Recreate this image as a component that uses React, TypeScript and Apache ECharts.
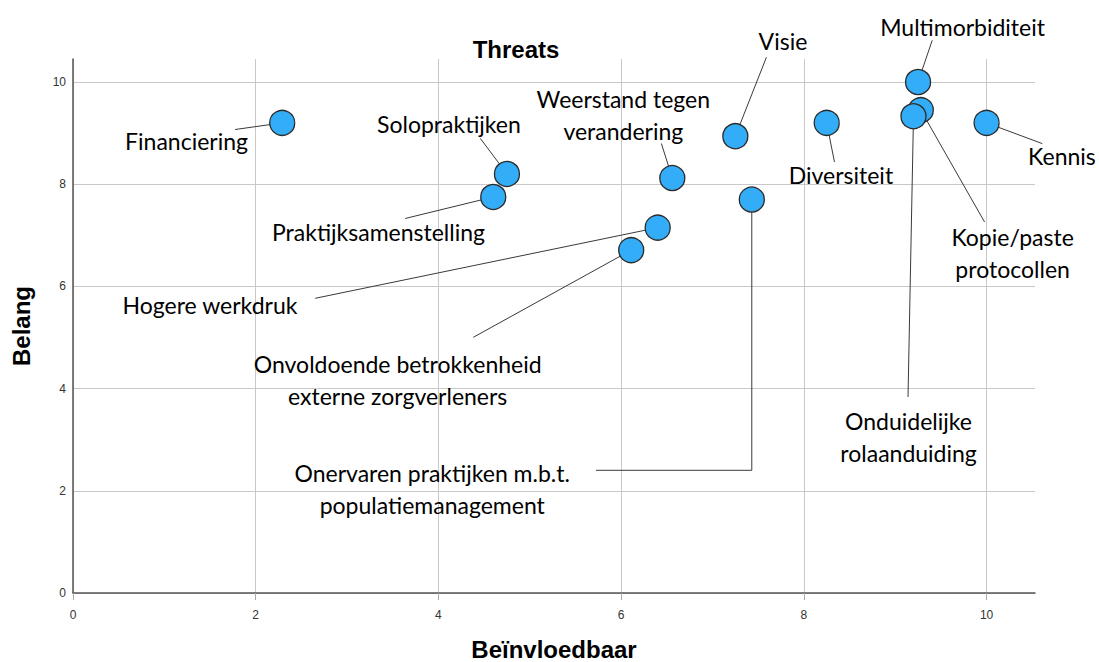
import React, { useEffect, useRef } from 'react';
import * as echarts from 'echarts';

// Items (threats)
const categories = [
  'Financiering',
  'Solopraktijken',
  'Praktijksamenstelling',
  'Hogere werkdruk',
  'Onvoldoende betrokkenheid\nexterne zorgverleners',
  'Onervaren praktijken m.b.t.\npopulatiemanagement',
  'Weerstand tegen\nverandering',
  'Visie',
  'Multimorbiditeit',
  'Diversiteit',
  'Kennis',
  'Kopie/paste\nprotocollen',
  'Onduidelijke\nrolaanduiding',
];

// x: Beïnvloedbaar, y: Belang
const beinvloedbaar = [2.29, 4.75, 4.60, 6.40, 6.11, 7.43, 6.56, 7.25, 9.25, 8.25, 10.0, 9.28, 9.20];
const belang = [9.2, 8.2, 7.75, 7.15, 6.71, 7.70, 8.12, 8.94, 10.0, 9.2, 9.2, 9.45, 9.33];

// Label anchors (data units)
const labelTextX = [1.243, 4.115, 3.344, 1.5, 3.554, 3.932, 6.024, 7.771, 9.737, 8.406, 10.825, 10.285, 9.146];
const labelTextY = [8.879, 9.211, 7.098, 5.669, 4.192, 2.069, 9.378, 10.836, 11.109, 8.208, 8.585, 6.677, 3.08];
const leaderEndX = [1.774, 4.458, 3.636, 2.651, 4.381, 5.725, 6.44, 7.59, 9.405, 8.335, 10.61, 9.978, 9.14];
const leaderEndY = [9.07, 8.898, 7.329, 5.767, 5.003, 2.401, 8.797, 10.484, 10.816, 8.433, 8.794, 7.26, 3.836];
const leaderElbowX: (number | null)[] = [null, null, null, null, null, 7.43, null, null, null, null, null, null, null];
const leaderElbowY: (number | null)[] = [null, null, null, null, null, 2.401, null, null, null, null, null, null, null];

const tickValues = [0, 2, 4, 6, 8, 10];

const ARIAL = 'Arial, "Liberation Sans", sans-serif';
const LABEL_FONT = 'Lato, "Open Sans", sans-serif';

export default function App() {
  const ref = useRef<HTMLDivElement>(null);

  useEffect(() => {
    document.body.style.margin = '0';
    const chart = echarts.init(ref.current!, null, { renderer: 'svg' });
    const points = beinvloedbaar.map((x, i) => [x, belang[i]]);

    chart.setOption({
      animation: false,
      backgroundColor: '#fff',
      grid: { left: 73, right: 64, top: 59, bottom: 69, containLabel: false, outerBoundsMode: 'none' },
      graphic: [
        {
          type: 'text',
          x: 516,
          y: 49,
          style: {
            text: 'Threats',
            align: 'center',
            verticalAlign: 'middle',
            font: 'bold 24px ' + ARIAL,
            fill: '#000',
          },
        },
      ],
      xAxis: {
        type: 'value',
        min: 0,
        max: 10.53,
        interval: 2,
        name: 'Beïnvloedbaar',
        nameLocation: 'middle',
        nameGap: 44,
        nameTextStyle: { fontFamily: ARIAL, fontWeight: 'bold', fontSize: 24, color: '#000' },
        axisLine: { show: true, onZero: false, lineStyle: { color: '#555', width: 1.5 } },
        axisTick: { show: true, length: 7, customValues: tickValues, lineStyle: { color: '#aaa' } },
        axisLabel: { customValues: tickValues, margin: 16, color: '#333', fontSize: 12, fontFamily: ARIAL },
        splitLine: { show: true, lineStyle: { color: '#c8c8c8', width: 1 } },
      },
      yAxis: {
        type: 'value',
        min: 0,
        max: 10.45,
        interval: 2,
        name: 'Belang',
        nameLocation: 'middle',
        nameGap: 40,
        nameTextStyle: { fontFamily: ARIAL, fontWeight: 'bold', fontSize: 24, color: '#000' },
        axisLine: { show: true, onZero: false, lineStyle: { color: '#555', width: 1.5 } },
        axisTick: { show: false, customValues: tickValues },
        axisLabel: { customValues: tickValues, margin: 7, color: '#333', fontSize: 12, fontFamily: ARIAL },
        splitLine: { show: true, lineStyle: { color: '#c8c8c8', width: 1 } },
      },
      series: [
        {
          type: 'custom',
          z: 1,
          clip: false,
          silent: true,
          data: points,
          encode: { x: 0, y: 1 },
          renderItem: (params: any, api: any) => {
            const i = params.dataIndex;
            const p = api.coord([beinvloedbaar[i], belang[i]]);
            const pts = [p];
            if (leaderElbowX[i] != null) pts.push(api.coord([leaderElbowX[i], leaderElbowY[i]]));
            pts.push(api.coord([leaderEndX[i], leaderEndY[i]]));
            const t = api.coord([labelTextX[i], labelTextY[i]]);
            return {
              type: 'group',
              children: [
                {
                  type: 'polyline',
                  shape: { points: pts },
                  style: { stroke: '#3a3a3a', lineWidth: 1, fill: null },
                },
                {
                  type: 'text',
                  x: t[0],
                  y: t[1] + 1.5,
                  style: {
                    text: categories[i],
                    align: 'center',
                    verticalAlign: 'middle',
                    font: '23px ' + LABEL_FONT,
                    lineHeight: 32,
                    fill: '#000',
                  },
                },
              ],
            };
          },
        },
        {
          type: 'scatter',
          z: 3,
          data: points,
          symbol: 'circle',
          symbolSize: 25,
          itemStyle: { color: '#33adf7', borderColor: '#2b2b2b', borderWidth: 1.3, opacity: 1 },
        },
      ],
    });

    return () => chart.dispose();
  }, []);

  return <div ref={ref} style={{ width: 1099, height: 662 }} />;
}
